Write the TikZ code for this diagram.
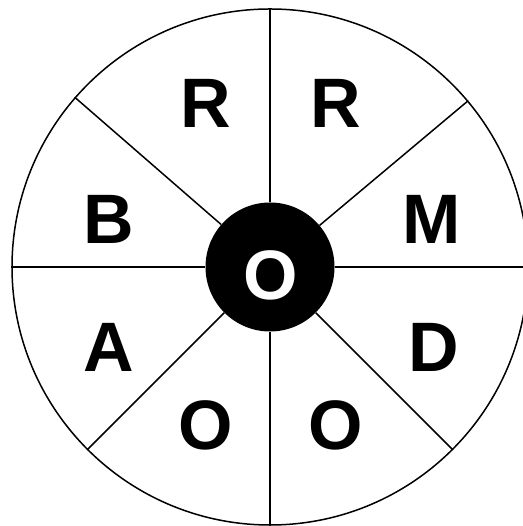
\documentclass[tikz,border=0pt]{standalone}
\usepackage{fontspec}
\setmainfont{Liberation Sans}
\usetikzlibrary{positioning}
\definecolor{whInk}{HTML}{000000}
\begin{document}
\begin{tikzpicture}[
    x=1pt, y=1pt,
    rimcircle/.style={circle, draw=whInk, line width=1.5pt, inner sep=0pt, minimum size=516pt},
    hubcircle/.style={circle, fill=whInk, inner sep=0pt, minimum size=129pt},
    spoke/.style={draw=whInk, line width=1.5pt},
    letter/.style={font=\fontsize{70}{84}\selectfont\bfseries, text=whInk, inner sep=0pt},
  ]
  \useasboundingbox (0,0) rectangle (522,526);
  \node[rimcircle] (rim) at (270,259) {};
  \node[hubcircle] (hub) at (270,259) {};
  % spokes from the hub out to the rim
  \draw[spoke] (hub.90)    -- (rim.90);
  \draw[spoke] (hub.40.6)  -- (rim.40.6);
  \draw[spoke] (hub.0)     -- (rim.0);
  \draw[spoke] (hub.-45)   -- (rim.-45);
  \draw[spoke] (hub.-90)   -- (rim.-90);
  \draw[spoke] (hub.-135)  -- (rim.-135);
  \draw[spoke] (hub.180)   -- (rim.180);
  \draw[spoke] (hub.139.4) -- (rim.139.4);

  \node[letter, text=white] (mid) at (271,251) {O};
  \node[letter] (r1) at (206,423) {R};
  \node[letter] (r2) at (336,423) {R};
  \node[letter] (m)  at (432,307) {M};
  \node[letter] (d)  at (434,179) {D};
  \node[letter] (o2) at (336,101) {O};
  \node[letter] (o1) at (206,101) {O};
  \node[letter] (a)  at (109,179) {A};
  \node[letter] (b)  at (109,307) {B};
\end{tikzpicture}
\end{document}
